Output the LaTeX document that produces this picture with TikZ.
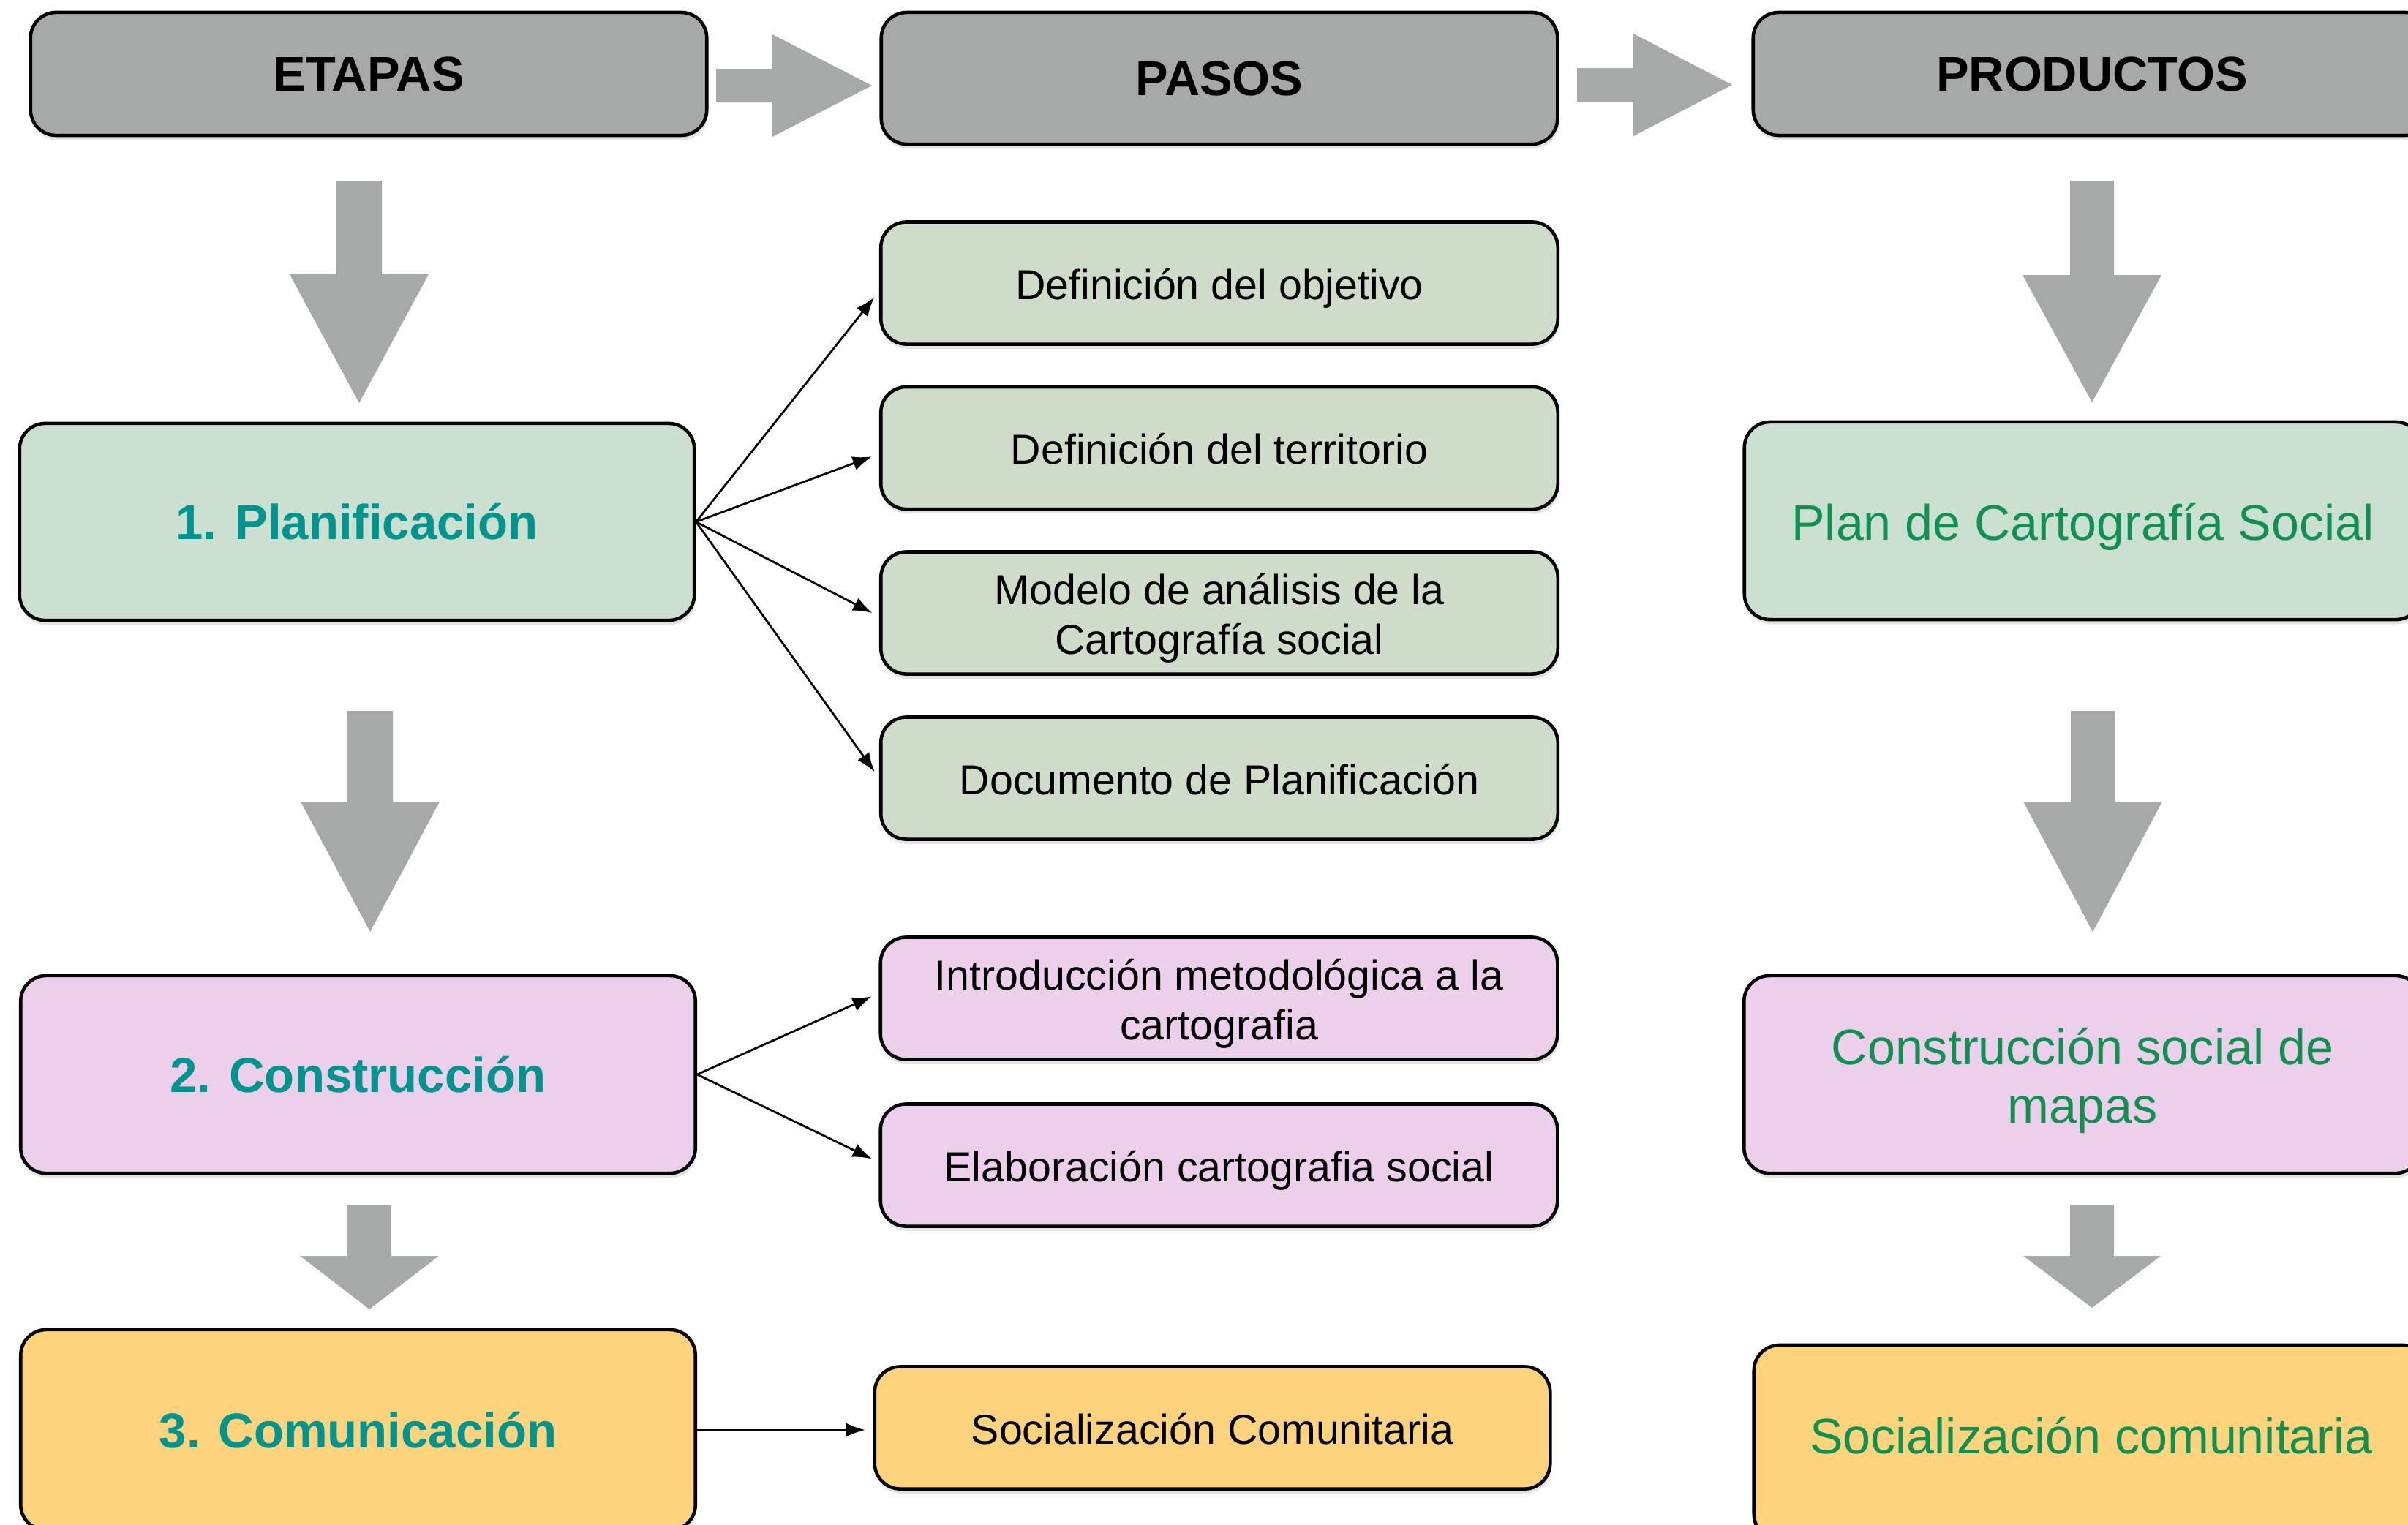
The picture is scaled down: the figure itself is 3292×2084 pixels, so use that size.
\documentclass[tikz,border=0pt]{standalone}
\usepackage{fontspec}
\setmainfont{Liberation Sans}
\usetikzlibrary{arrows.meta,shadows}
\definecolor{hdrgray}{HTML}{A6A9A8}
\definecolor{plangreen}{HTML}{CCE0D1}
\definecolor{stepgreen}{HTML}{CFDCC9}
\definecolor{boxpink}{HTML}{ECD0EB}
\definecolor{boxyellow}{HTML}{FDD37D}
\definecolor{stagetext}{HTML}{00948F}
\definecolor{prodtext}{HTML}{109152}
\newcommand\GDarrow[6]{%
  \fill[hdrgray] ({#1-#5},{#2}) -- ({#1+#5},{#2}) -- ({#1+#5},{#3}) -- ({#1+#6},{#3})
    -- ({#1},{#4}) -- ({#1-#6},{#3}) -- ({#1-#5},{#3}) -- cycle;}
\newcommand\GRarrow[6]{%
  \fill[hdrgray] ({#1},{#4-#5}) -- ({#2},{#4-#5}) -- ({#2},{#4-#6}) -- ({#3},{#4})
    -- ({#2},{#4+#6}) -- ({#2},{#4+#5}) -- ({#1},{#4+#5}) -- cycle;}
\tikzset{
  box/.style={draw=black, line width=1.3pt, rounded corners=0.35cm, align=center, inner sep=0pt,
    drop shadow={opacity=0.22, shadow xshift=0.4pt, shadow yshift=-1.8pt}},
  header/.style={box, fill=hdrgray, font=\fontsize{19}{22}\selectfont\bfseries},
  stage/.style={box, font=\fontsize{19.1}{23}\selectfont\bfseries, text=stagetext,
    minimum width=9.22cm},
  stepbox/.style={box, font=\fontsize{16.3}{19.2}\selectfont, minimum width=9.25cm, minimum height=1.67cm},
  stepone/.style={stepbox, text height=12.7pt, text depth=0pt},
  steptwo/.style={stepbox, text height=31.9pt, text depth=0pt},
  prod/.style={box, font=\fontsize{19.4}{22.8}\selectfont, text=prodtext, minimum width=9.25cm},
  link/.style={-{Latex[length=7.5pt,width=5.5pt]}, line width=0.8pt, shorten >=3pt},
}
\begin{document}
\begin{tikzpicture}[x=0.01cm, y=-0.01cm]
\useasboundingbox (0,0) rectangle (3292,2084);
% headers
\node[header, minimum width=9.24cm, minimum height=1.68cm] (etapas) at (504,101) {ETAPAS};
\node[header, minimum width=9.24cm, minimum height=1.80cm] (pasos) at (1667,107) {PASOS};
\node[header, minimum width=9.26cm, minimum height=1.68cm] (productos) at (2860,101) {PRODUCTOS};
% stages
\node[stage, fill=plangreen, minimum height=2.69cm] (plan) at (488,713.5) {1. Planificación};
\node[stage, fill=boxpink, minimum height=2.70cm] (cons) at (489.5,1469) {2. Construcción};
\node[stage, fill=boxyellow, minimum height=2.74cm] (comu) at (489.5,1955) {3. Comunicación};
% steps
\node[stepone, fill=stepgreen] (obj) at (1667,387) {Definición del objetivo};
\node[stepone, fill=stepgreen] (terr) at (1667,612.5) {Definición del territorio};
\node[steptwo, fill=stepgreen] (mod) at (1667,838) {Modelo de análisis de la\\Cartografía social};
\node[stepone, fill=stepgreen] (doc) at (1667,1064) {Documento de Planificación};
\node[steptwo, fill=boxpink] (intro) at (1666.5,1365) {Introducción metodológica a la\\cartografia};
\node[stepone, fill=boxpink] (elab) at (1666.5,1593) {Elaboración cartografia social};
\node[stepone, fill=boxyellow, minimum width=9.23cm] (soc) at (1657.5,1952) {Socialización Comunitaria};
% products
\node[prod, fill=plangreen, minimum height=2.70cm, text height=15.1pt, text depth=0pt] (planprod) at (2847.5,712) {Plan de Cartografía Social};
\node[prod, fill=boxpink, minimum height=2.70cm, text height=37.9pt, text depth=0pt] (consprod) at (2847,1469) {Construcción social de\\mapas};
\node[prod, fill=boxyellow, minimum width=9.22cm, minimum height=2.66cm, text height=14.6pt, text depth=5.8pt] (socprod) at (2859,1972) {Socialización comunitaria};
% big gray arrows
\GRarrow{979}{1056}{1192}{117}{23}{70}
\GRarrow{2156}{2233}{2368}{116}{23}{70}
\GDarrow{491}{247}{375}{551}{31}{95}
\GDarrow{506}{972}{1096}{1274}{31}{95}
\GDarrow{505}{1648}{1717}{1790}{30}{95}
\GDarrow{2860}{247}{376}{550}{30}{95}
\GDarrow{2861}{972}{1096}{1274}{30}{95}
\GDarrow{2860}{1648}{1717}{1788}{30}{94}
% thin connectors
\draw[link] (plan.east) -- ([yshift=-0.11cm]obj.west);
\draw[link] (plan.east) -- ([yshift=-0.08cm]terr.west);
\draw[link] (plan.east) -- ([yshift=-0.05cm]mod.west);
\draw[link] (plan.east) -- (doc.west);
\draw[link] (cons.east) -- ([yshift=0.07cm]intro.west);
\draw[link] (cons.east) -- ([yshift=0.04cm]elab.west);
\draw[link] (comu.east) -- (comu.east -| soc.west);
\end{tikzpicture}
\end{document}
